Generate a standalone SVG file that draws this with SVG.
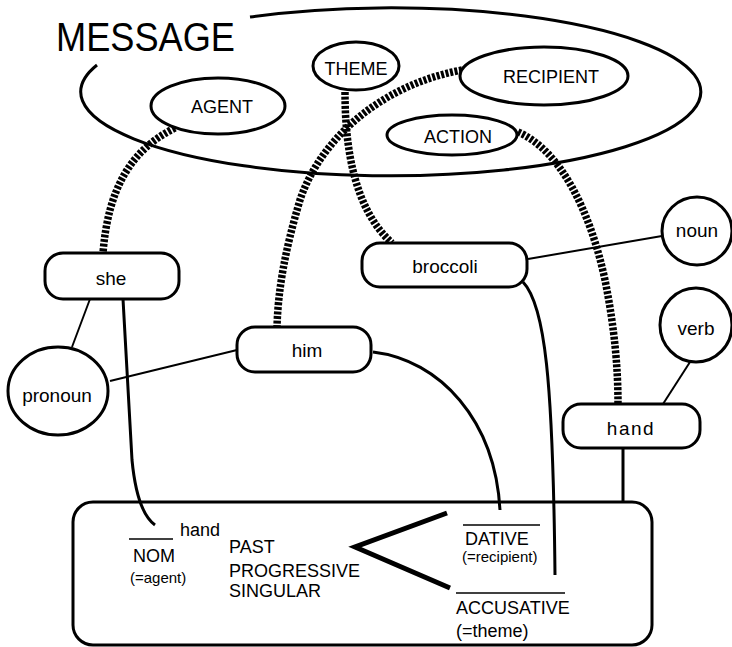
<svg xmlns="http://www.w3.org/2000/svg" width="732" height="647" viewBox="0 0 732 647">
<style>
text{font-family:"Liberation Sans",Arial,sans-serif;fill:#000}
.node{fill:#fff;stroke:#000;stroke-width:3}
.lbl{font-size:18px;text-anchor:middle}
.lw{font-size:19px;text-anchor:middle}
.thin{fill:none;stroke:#000;stroke-width:2}
.thick{fill:none;stroke:#000;stroke-width:3}
.hatch{fill:none;stroke:#000;stroke-width:7.5;stroke-dasharray:3 1.6}
.bx{font-size:18px}
.sm{font-size:15px}
</style>
<g id="message">
<path d="M250,17 A310,84 0 1 1 97,65" fill="none" stroke="#000" stroke-width="3"/>
<text x="56" y="51" font-size="40" textLength="179" lengthAdjust="spacingAndGlyphs">MESSAGE</text>
</g>
<g id="connectors">
<path class="hatch" d="M175,128 C130,150 108,190 103,253"/>
<path class="hatch" d="M345,92 C345,150 355,210 392,243"/>
<path class="hatch" d="M462,70 C380,85 320,140 300,200 C285,250 278,290 277,327"/>
<path class="hatch" d="M518,132 C560,150 590,210 605,280 C615,330 618,370 618,404"/>
<line class="thin" x1="90" y1="299" x2="72" y2="347"/>
<line class="thin" x1="110" y1="381" x2="237" y2="350"/>
<line class="thin" x1="528" y1="259" x2="662" y2="236"/>
<line class="thin" x1="690" y1="362" x2="663" y2="404"/>
<path class="thick" d="M123,299 L132,460 Q137,512 155,525"/>
<path class="thick" d="M373,352 C440,360 495,420 500,510"/>
<path class="thick" d="M523,282 C545,305 553,380 555,575"/>
<line class="thick" x1="623" y1="448" x2="623" y2="502"/>
</g>
<g id="agent"><ellipse class="node" cx="218" cy="106" rx="67" ry="28"/><text class="lbl" x="222" y="113">AGENT</text></g>
<g id="theme"><ellipse class="node" cx="356" cy="66" rx="43" ry="24"/><text class="lbl" x="356" y="75">THEME</text></g>
<g id="recipient"><ellipse class="node" cx="544" cy="76" rx="84" ry="29"/><text class="lbl" x="551" y="83">RECIPIENT</text></g>
<g id="action"><ellipse class="node" cx="452" cy="135" rx="65" ry="20"/><text class="lbl" x="458" y="143">ACTION</text></g>
<g id="she"><rect class="node" x="45" y="253" width="134" height="46" rx="18"/><text class="lw" x="111" y="285">she</text></g>
<g id="him"><rect class="node" x="237" y="327" width="134" height="45" rx="18"/><text class="lw" x="307" y="357">him</text></g>
<g id="broccoli"><rect class="node" x="362" y="243" width="165" height="44" rx="18"/><text class="lw" x="445" y="273">broccoli</text></g>
<g id="hand"><rect class="node" x="563" y="404" width="137" height="44" rx="18"/><text class="lw" x="631" y="435" letter-spacing="1.5">hand</text></g>
<g id="pronoun"><ellipse class="node" cx="58" cy="391" rx="50" ry="44"/><text class="lw" x="57" y="402">pronoun</text></g>
<g id="noun"><ellipse class="node" cx="697" cy="231" rx="35" ry="34"/><text class="lw" x="697" y="237">noun</text></g>
<g id="verb"><ellipse class="node" cx="696" cy="325" rx="36" ry="37"/><text class="lw" x="696" y="335">verb</text></g>
<g id="form">
<rect x="73" y="502" width="579" height="143" rx="20" fill="none" stroke="#000" stroke-width="3"/>
<path d="M447,513 L355,547 L450,588" fill="none" stroke="#000" stroke-width="5"/>
<line x1="129" y1="539" x2="173" y2="539" stroke="#000" stroke-width="1.5"/>
<text class="bx" x="180" y="536">hand</text>
<text class="bx" x="133" y="562">NOM</text>
<text class="sm" x="130" y="583">(=agent)</text>
<text class="bx" x="229" y="553">PAST</text>
<text class="bx" x="229" y="577">PROGRESSIVE</text>
<text class="bx" x="229" y="597">SINGULAR</text>
<line x1="463" y1="525" x2="540" y2="525" stroke="#000" stroke-width="1.5"/>
<text class="bx" x="465" y="545">DATIVE</text>
<text class="sm" x="462" y="562">(=recipient)</text>
<line x1="456" y1="593" x2="565" y2="593" stroke="#000" stroke-width="1.5"/>
<text class="bx" x="456" y="614">ACCUSATIVE</text>
<text class="bx" x="456" y="637">(=theme)</text>
</g>
</svg>
